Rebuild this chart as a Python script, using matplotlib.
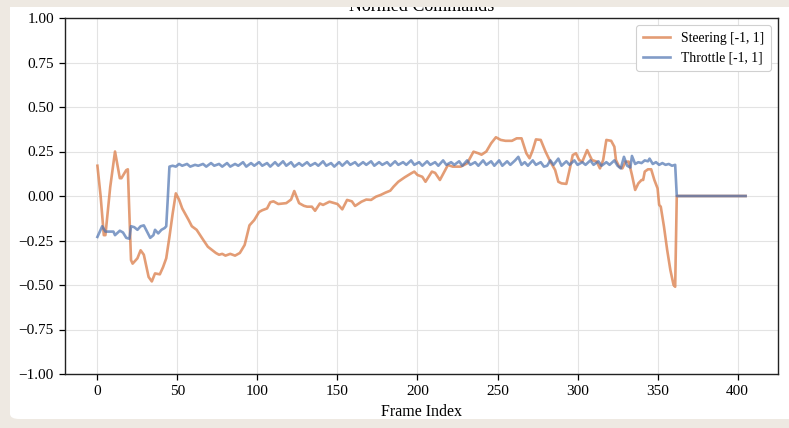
import numpy as np
import matplotlib.pyplot as plt
from matplotlib.patches import FancyBboxPatch, Rectangle

# steering command, sampled frame / value
steer_frames = [0, 2, 4, 5, 8, 11, 14, 15, 18, 19, 21, 22, 25, 27, 29, 32, 34, 36,
                39, 41, 43, 45, 47, 49, 51, 53, 57, 59, 62, 66, 69, 74, 76, 78, 80,
                83, 86, 89, 92, 95, 98, 101, 103, 106, 108, 110, 113, 118, 121,
                123, 126, 129, 131, 134, 136, 139, 141, 145, 150, 153, 156, 159,
                161, 165, 168, 171, 174, 177, 180, 183, 185, 188, 192, 196, 198,
                200, 203, 205, 209, 211, 214, 219, 222, 227, 231, 235, 238, 240,
                243, 246, 249, 252, 255, 259, 262, 265, 268, 270, 272, 274, 277,
                280, 283, 286, 288, 290, 293, 295, 297, 299, 301, 303, 306, 309,
                312, 314, 316, 318, 321, 323, 324, 326, 328, 330, 332, 334, 336,
                338, 340, 341, 342, 344, 346, 348, 350, 351, 352, 354, 356, 358,
                360, 361, 362, 405]
steer_vals = [0.17, 0.0, -0.22, -0.22, 0.05, 0.25, 0.10, 0.10, 0.145, 0.15, -0.36,
              -0.38, -0.35, -0.305, -0.33, -0.455, -0.48, -0.435, -0.44, -0.40,
              -0.35, -0.23, -0.10, 0.015, -0.02, -0.07, -0.135, -0.17, -0.19,
              -0.245, -0.285, -0.32, -0.33, -0.325, -0.335, -0.325, -0.335,
              -0.32, -0.275, -0.165, -0.135, -0.09, -0.08, -0.07, -0.035, -0.03,
              -0.045, -0.04, -0.02, 0.028, -0.04, -0.055, -0.06, -0.06, -0.083,
              -0.042, -0.05, -0.032, -0.045, -0.075, -0.022, -0.03, -0.056,
              -0.032, -0.02, -0.022, -0.004, 0.006, 0.019, 0.03, 0.052, 0.08,
              0.105, 0.127, 0.137, 0.118, 0.108, 0.08, 0.137, 0.13, 0.09, 0.174,
              0.165, 0.165, 0.183, 0.249, 0.24, 0.232, 0.25, 0.296, 0.33, 0.315,
              0.31, 0.31, 0.324, 0.324, 0.24, 0.212, 0.258, 0.318, 0.315, 0.249,
              0.193, 0.146, 0.08, 0.071, 0.068, 0.146, 0.23, 0.24, 0.202, 0.193,
              0.258, 0.202, 0.193, 0.155, 0.202, 0.315, 0.31, 0.277, 0.202,
              0.165, 0.155, 0.193, 0.193, 0.118, 0.034, 0.071, 0.09, 0.09, 0.137,
              0.15, 0.15, 0.09, 0.043, -0.05, -0.06, -0.172, -0.303, -0.416,
              -0.50, -0.51, 0.0, 0.0]

# throttle command, sampled frame / value
thr_frames = [0, 3, 5, 7, 10, 11, 14, 16, 18, 20, 21, 23, 25, 27, 29, 31, 33, 35,
              36, 38, 40, 42, 43, 44, 45,
              47, 49, 51, 53, 56, 58, 61, 63, 66, 68, 71, 73, 76, 78, 81, 83, 86,
              88, 91, 93, 96, 98, 101, 103, 106, 108, 111, 113, 116, 118, 121,
              123, 126, 128, 131, 133, 136, 138, 141, 143, 146, 148, 151, 153,
              156, 158, 161, 163, 166, 168, 171, 173, 176, 178, 181, 183, 186,
              188, 191, 193, 196, 198, 201, 203, 206, 208, 211, 213, 216, 218,
              221, 223, 226, 228, 231, 233, 236, 238, 241, 243, 246, 248, 251,
              253, 256, 258, 261, 263, 265, 267, 269, 272, 274, 277, 279, 281,
              283, 285, 288, 290, 293, 295, 298, 300, 303, 305, 308, 310, 313,
              315, 318, 320, 323, 325, 327, 329, 331, 333, 334, 336, 338, 340,
              342, 344, 345, 347, 349, 351, 353, 355, 357, 359, 361, 362, 405]
thr_vals = [-0.23, -0.17, -0.20, -0.20, -0.20, -0.22, -0.195, -0.205, -0.235,
            -0.24, -0.17, -0.175, -0.19, -0.17, -0.165, -0.20, -0.235, -0.22,
            -0.19, -0.21, -0.19, -0.18, -0.17, -0.01, 0.165,
            0.17, 0.165, 0.18, 0.17, 0.18, 0.165, 0.175, 0.17, 0.18, 0.165,
            0.185, 0.17, 0.18, 0.165, 0.185, 0.165, 0.18, 0.17, 0.19, 0.165,
            0.185, 0.17, 0.19, 0.17, 0.185, 0.165, 0.19, 0.17, 0.195, 0.17,
            0.19, 0.165, 0.185, 0.17, 0.19, 0.17, 0.185, 0.17, 0.195, 0.17,
            0.185, 0.165, 0.19, 0.17, 0.195, 0.175, 0.19, 0.17, 0.19, 0.175,
            0.195, 0.17, 0.19, 0.175, 0.19, 0.17, 0.195, 0.175, 0.19, 0.175,
            0.20, 0.175, 0.19, 0.17, 0.195, 0.175, 0.19, 0.17, 0.20, 0.175,
            0.19, 0.175, 0.195, 0.17, 0.20, 0.175, 0.19, 0.17, 0.20, 0.175,
            0.195, 0.17, 0.20, 0.17, 0.195, 0.175, 0.20, 0.22, 0.175, 0.19,
            0.17, 0.20, 0.175, 0.19, 0.165, 0.17, 0.20, 0.175, 0.21, 0.17,
            0.195, 0.175, 0.20, 0.175, 0.19, 0.175, 0.20, 0.175, 0.195, 0.17,
            0.19, 0.175, 0.20, 0.17, 0.155, 0.22, 0.17, 0.16, 0.225, 0.18,
            0.19, 0.185, 0.20, 0.195, 0.21, 0.18, 0.19, 0.175, 0.185, 0.175,
            0.18, 0.17, 0.175, 0.0, 0.0]

y_ticks = [-1.0, -0.75, -0.5, -0.25, 0.0, 0.25, 0.5, 0.75, 1.0]
x_ticks = [0, 50, 100, 150, 200, 250, 300, 350, 400]


def main():
    fig = plt.figure(figsize=(7.89, 4.28), dpi=100, facecolor='#eee9e2')
    # white card behind the plot
    fig.add_artist(FancyBboxPatch((10 / 789, 9 / 428), 1.2, 1.2,
                                  boxstyle='round,pad=0,rounding_size=0.012',
                                  transform=fig.transFigure, facecolor='white',
                                  edgecolor='none', zorder=-10))

    ax = fig.add_axes([65 / 789, 1 - 374 / 428, (778 - 65) / 789, (374 - 18) / 428])
    ax.plot(steer_frames, steer_vals, color='#dd8452', alpha=0.8, lw=1.9,
            label='Steering [-1, 1]')
    ax.plot(thr_frames, thr_vals, color='#4c72b0', alpha=0.7, lw=1.9,
            label='Throttle [-1, 1]')

    ax.set_ylim(-1, 1)
    ax.set_xlim(-20.25, 425.25)
    ax.set_yticks(y_ticks)
    ax.set_xticks(x_ticks)
    ax.yaxis.set_major_formatter('{x:.2f}')
    ax.tick_params(direction='out', length=4, width=0.9, labelsize=11, pad=4,
                   top=False, right=False)
    ax.grid(True, color='#e3e3e3', lw=0.8)
    ax.set_axisbelow(True)
    for s in ax.spines.values():
        s.set_color('#222222')
        s.set_linewidth(1.0)

    ax.set_xlabel('Frame Index', fontsize=11.5, labelpad=4)
    ax.set_title('Normed Commands', fontsize=13, pad=5)
    leg = ax.legend(loc='upper right', fontsize=9.8, fancybox=True,
                    framealpha=1.0, borderpad=0.5)
    leg.get_frame().set_edgecolor('#d0d0d0')
    leg.get_frame().set_linewidth(0.8)

    # top strip hides the upper part of the title
    fig.add_artist(Rectangle((0, 1 - 7 / 428), 1, 7 / 428, transform=fig.transFigure,
                             facecolor='#eee9e2', edgecolor='none', zorder=10))

    fig.savefig('out.png', dpi=100, facecolor=fig.get_facecolor())


if __name__ == '__main__':
    plt.rcParams['font.family'] = ['Liberation Serif', 'DejaVu Serif']
    main()
